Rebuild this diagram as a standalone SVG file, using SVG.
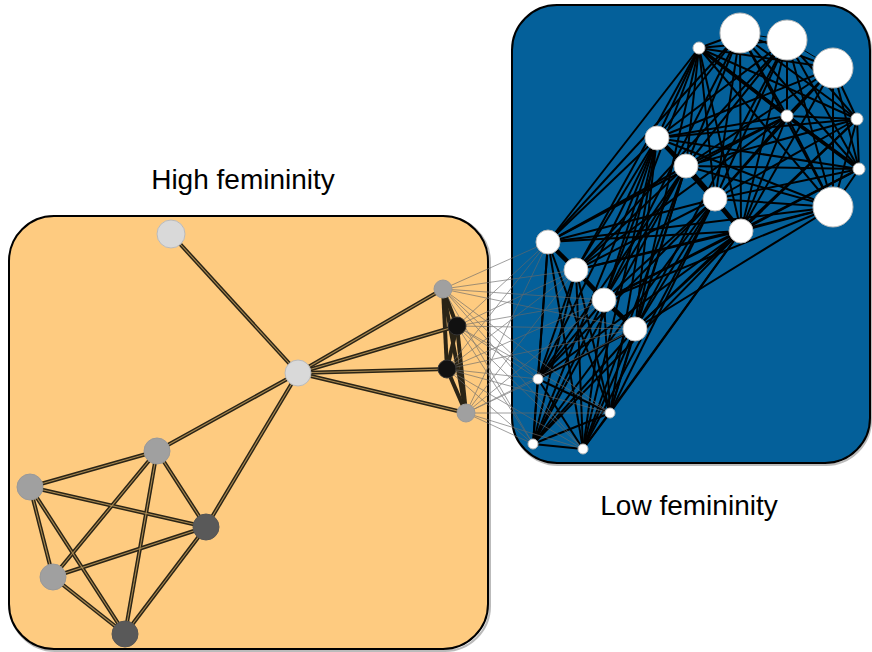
<svg xmlns="http://www.w3.org/2000/svg" width="872" height="652" viewBox="0 0 872 652">
<style>
.lbl{font-family:"Liberation Sans",Arial,sans-serif;font-size:28px;fill:#000}
.oe{stroke:#2a2416;stroke-width:4;fill:none}
.oi{stroke:#a88850;stroke-width:1.1;fill:none}
.be{stroke:#000;stroke-width:2;fill:none}
.bt{stroke:#000;stroke-width:4.5;fill:none}
.ce{stroke:#6a6a6a;stroke-width:0.8;fill:none;opacity:0.8}
.wn{fill:#fff;stroke:#bbb;stroke-width:1}
.box{stroke:#000;stroke-width:2}
.shadow{fill:none;stroke:#777;stroke-width:2;opacity:0.5}
</style>
<rect x="0" y="0" width="872" height="652" fill="#fff"/>
<rect class="shadow" x="10" y="217" width="480" height="434" rx="45"/>
<rect class="box" x="9" y="216" width="479" height="433" rx="45" fill="#fecb80"/>
<rect class="shadow" x="513" y="6" width="358" height="459" rx="45"/>
<rect class="box" x="512" y="5" width="358" height="458" rx="45" fill="#04609a"/>
<text class="lbl" x="243" y="189" text-anchor="middle">High femininity</text>
<text class="lbl" x="689" y="515" text-anchor="middle">Low femininity</text>
<g id="connectors">
<g id="orange-edges">
<g class="oe">
<line x1="171" y1="234" x2="298" y2="373"/><line x1="298" y1="373" x2="443" y2="289"/><line x1="298" y1="373" x2="457" y2="326"/><line x1="298" y1="373" x2="447" y2="369"/><line x1="298" y1="373" x2="466" y2="413"/><line x1="298" y1="373" x2="157" y2="451"/><line x1="298" y1="373" x2="206" y2="527"/>
<line x1="157" y1="451" x2="30" y2="487"/><line x1="157" y1="451" x2="206" y2="527"/><line x1="157" y1="451" x2="53" y2="577"/><line x1="157" y1="451" x2="125" y2="634"/><line x1="30" y1="487" x2="206" y2="527"/><line x1="30" y1="487" x2="53" y2="577"/><line x1="30" y1="487" x2="125" y2="634"/><line x1="53" y1="577" x2="206" y2="527"/><line x1="53" y1="577" x2="125" y2="634"/><line x1="206" y1="527" x2="125" y2="634"/>
<line x1="443" y1="289" x2="457" y2="326"/><line x1="443" y1="289" x2="447" y2="369"/><line x1="443" y1="289" x2="466" y2="413"/><line x1="457" y1="326" x2="447" y2="369"/><line x1="457" y1="326" x2="466" y2="413"/><line x1="447" y1="369" x2="466" y2="413"/>
</g>
<g class="oi">
<line x1="171" y1="234" x2="298" y2="373"/><line x1="298" y1="373" x2="443" y2="289"/><line x1="298" y1="373" x2="457" y2="326"/><line x1="298" y1="373" x2="447" y2="369"/><line x1="298" y1="373" x2="466" y2="413"/><line x1="298" y1="373" x2="157" y2="451"/><line x1="298" y1="373" x2="206" y2="527"/>
<line x1="157" y1="451" x2="30" y2="487"/><line x1="157" y1="451" x2="206" y2="527"/><line x1="157" y1="451" x2="53" y2="577"/><line x1="157" y1="451" x2="125" y2="634"/><line x1="30" y1="487" x2="206" y2="527"/><line x1="30" y1="487" x2="53" y2="577"/><line x1="30" y1="487" x2="125" y2="634"/><line x1="53" y1="577" x2="206" y2="527"/><line x1="53" y1="577" x2="125" y2="634"/><line x1="206" y1="527" x2="125" y2="634"/>
</g>
</g>
<g id="blue-edges" class="be">
<line x1="740" y1="33" x2="787" y2="40" stroke-width="1"/><line x1="787" y1="40" x2="833" y2="68" stroke-width="1"/><line x1="740" y1="33" x2="833" y2="68"/><line x1="740" y1="33" x2="833" y2="207"/><line x1="740" y1="33" x2="699" y2="48"/><line x1="740" y1="33" x2="787" y2="116"/><line x1="740" y1="33" x2="857" y2="119"/><line x1="740" y1="33" x2="859" y2="169"/><line x1="740" y1="33" x2="657" y2="138"/><line x1="740" y1="33" x2="686" y2="166"/><line x1="740" y1="33" x2="715" y2="199"/><line x1="740" y1="33" x2="741" y2="231"/>
<line x1="787" y1="40" x2="833" y2="207"/><line x1="787" y1="40" x2="699" y2="48"/><line x1="787" y1="40" x2="787" y2="116"/><line x1="787" y1="40" x2="857" y2="119"/><line x1="787" y1="40" x2="859" y2="169"/><line x1="787" y1="40" x2="657" y2="138"/><line x1="787" y1="40" x2="686" y2="166"/><line x1="787" y1="40" x2="715" y2="199"/><line x1="787" y1="40" x2="741" y2="231"/>
<line x1="833" y1="68" x2="833" y2="207"/><line x1="833" y1="68" x2="699" y2="48"/><line x1="833" y1="68" x2="787" y2="116"/><line x1="833" y1="68" x2="857" y2="119"/><line x1="833" y1="68" x2="859" y2="169"/><line x1="833" y1="68" x2="657" y2="138"/><line x1="833" y1="68" x2="686" y2="166"/><line x1="833" y1="68" x2="715" y2="199"/><line x1="833" y1="68" x2="741" y2="231"/>
<line x1="833" y1="207" x2="699" y2="48"/><line x1="833" y1="207" x2="787" y2="116"/><line x1="833" y1="207" x2="857" y2="119"/><line x1="833" y1="207" x2="859" y2="169"/><line x1="833" y1="207" x2="657" y2="138"/><line x1="833" y1="207" x2="686" y2="166"/><line x1="833" y1="207" x2="715" y2="199"/><line x1="833" y1="207" x2="741" y2="231"/>
<line x1="699" y1="48" x2="787" y2="116" stroke-width="3.5"/><line x1="699" y1="48" x2="857" y2="119"/><line x1="699" y1="48" x2="859" y2="169"/><line x1="699" y1="48" x2="657" y2="138"/><line x1="699" y1="48" x2="686" y2="166"/><line x1="699" y1="48" x2="715" y2="199"/><line x1="699" y1="48" x2="741" y2="231"/>
<line x1="787" y1="116" x2="857" y2="119"/><line x1="787" y1="116" x2="859" y2="169" stroke-width="3.5"/><line x1="787" y1="116" x2="657" y2="138"/><line x1="787" y1="116" x2="686" y2="166"/><line x1="787" y1="116" x2="715" y2="199"/><line x1="787" y1="116" x2="741" y2="231"/>
<line x1="857" y1="119" x2="859" y2="169"/><line x1="857" y1="119" x2="657" y2="138"/><line x1="857" y1="119" x2="686" y2="166"/><line x1="857" y1="119" x2="715" y2="199"/><line x1="857" y1="119" x2="741" y2="231"/>
<line x1="859" y1="169" x2="657" y2="138"/><line x1="859" y1="169" x2="686" y2="166"/><line x1="859" y1="169" x2="715" y2="199"/><line x1="859" y1="169" x2="741" y2="231"/>
<line x1="657" y1="138" x2="715" y2="199"/><line x1="657" y1="138" x2="741" y2="231"/><line x1="686" y1="166" x2="741" y2="231"/>
<line x1="548" y1="242" x2="604" y2="300"/><line x1="548" y1="242" x2="635" y2="329"/><line x1="576" y1="270" x2="635" y2="329"/>
<line x1="548" y1="242" x2="538" y2="379"/><line x1="548" y1="242" x2="610" y2="413"/><line x1="548" y1="242" x2="533" y2="444"/><line x1="548" y1="242" x2="583" y2="449"/>
<line x1="576" y1="270" x2="538" y2="379"/><line x1="576" y1="270" x2="610" y2="413"/><line x1="576" y1="270" x2="533" y2="444"/><line x1="576" y1="270" x2="583" y2="449"/>
<line x1="604" y1="300" x2="538" y2="379"/><line x1="604" y1="300" x2="610" y2="413"/><line x1="604" y1="300" x2="533" y2="444"/><line x1="604" y1="300" x2="583" y2="449"/>
<line x1="635" y1="329" x2="538" y2="379"/><line x1="635" y1="329" x2="610" y2="413"/><line x1="635" y1="329" x2="533" y2="444"/><line x1="635" y1="329" x2="583" y2="449"/>
<line x1="538" y1="379" x2="610" y2="413"/><line x1="538" y1="379" x2="533" y2="444"/><line x1="538" y1="379" x2="583" y2="449"/><line x1="610" y1="413" x2="533" y2="444"/><line x1="610" y1="413" x2="583" y2="449"/><line x1="533" y1="444" x2="583" y2="449"/>
<line x1="548" y1="242" x2="657" y2="138"/><line x1="548" y1="242" x2="686" y2="166"/><line x1="548" y1="242" x2="715" y2="199"/><line x1="548" y1="242" x2="741" y2="231"/><line x1="548" y1="242" x2="699" y2="48"/><line x1="548" y1="242" x2="833" y2="207"/><line x1="548" y1="242" x2="787" y2="116"/><line x1="548" y1="242" x2="740" y2="33"/>
<line x1="576" y1="270" x2="657" y2="138"/><line x1="576" y1="270" x2="686" y2="166"/><line x1="576" y1="270" x2="715" y2="199"/><line x1="576" y1="270" x2="741" y2="231"/><line x1="576" y1="270" x2="699" y2="48"/><line x1="576" y1="270" x2="833" y2="207"/><line x1="576" y1="270" x2="787" y2="116"/><line x1="576" y1="270" x2="787" y2="40"/>
<line x1="604" y1="300" x2="657" y2="138"/><line x1="604" y1="300" x2="686" y2="166"/><line x1="604" y1="300" x2="715" y2="199"/><line x1="604" y1="300" x2="741" y2="231"/><line x1="604" y1="300" x2="699" y2="48"/><line x1="604" y1="300" x2="833" y2="207"/><line x1="604" y1="300" x2="859" y2="169"/><line x1="604" y1="300" x2="740" y2="33"/>
<line x1="635" y1="329" x2="657" y2="138"/><line x1="635" y1="329" x2="686" y2="166"/><line x1="635" y1="329" x2="715" y2="199"/><line x1="635" y1="329" x2="741" y2="231"/><line x1="635" y1="329" x2="699" y2="48"/><line x1="635" y1="329" x2="833" y2="207"/><line x1="635" y1="329" x2="857" y2="119"/><line x1="635" y1="329" x2="787" y2="40"/>
<line x1="538" y1="379" x2="657" y2="138"/><line x1="538" y1="379" x2="686" y2="166"/><line x1="538" y1="379" x2="715" y2="199"/><line x1="538" y1="379" x2="741" y2="231"/>
<line x1="610" y1="413" x2="657" y2="138"/><line x1="610" y1="413" x2="686" y2="166"/><line x1="610" y1="413" x2="715" y2="199"/><line x1="610" y1="413" x2="741" y2="231"/>
<line x1="533" y1="444" x2="657" y2="138"/><line x1="533" y1="444" x2="686" y2="166"/><line x1="533" y1="444" x2="715" y2="199"/><line x1="533" y1="444" x2="741" y2="231"/>
<line x1="583" y1="449" x2="657" y2="138"/><line x1="583" y1="449" x2="686" y2="166"/><line x1="583" y1="449" x2="715" y2="199"/><line x1="583" y1="449" x2="741" y2="231"/>
</g>
<g id="thick-edges" class="bt">
<line x1="657" y1="138" x2="686" y2="166"/><line x1="686" y1="166" x2="715" y2="199"/><line x1="715" y1="199" x2="741" y2="231"/>
<line x1="548" y1="242" x2="576" y2="270"/><line x1="576" y1="270" x2="604" y2="300"/><line x1="604" y1="300" x2="635" y2="329"/>
</g>
<g id="cross-edges" class="ce">
<line x1="443" y1="289" x2="548" y2="242"/><line x1="443" y1="289" x2="576" y2="270"/><line x1="443" y1="289" x2="604" y2="300"/><line x1="443" y1="289" x2="635" y2="329"/><line x1="443" y1="289" x2="538" y2="379"/><line x1="443" y1="289" x2="610" y2="413"/><line x1="443" y1="289" x2="533" y2="444"/><line x1="443" y1="289" x2="583" y2="449"/>
<line x1="457" y1="326" x2="548" y2="242"/><line x1="457" y1="326" x2="576" y2="270"/><line x1="457" y1="326" x2="604" y2="300"/><line x1="457" y1="326" x2="635" y2="329"/><line x1="457" y1="326" x2="538" y2="379"/><line x1="457" y1="326" x2="610" y2="413"/><line x1="457" y1="326" x2="533" y2="444"/><line x1="457" y1="326" x2="583" y2="449"/>
<line x1="447" y1="369" x2="548" y2="242"/><line x1="447" y1="369" x2="576" y2="270"/><line x1="447" y1="369" x2="604" y2="300"/><line x1="447" y1="369" x2="635" y2="329"/><line x1="447" y1="369" x2="538" y2="379"/><line x1="447" y1="369" x2="610" y2="413"/><line x1="447" y1="369" x2="533" y2="444"/><line x1="447" y1="369" x2="583" y2="449"/>
<line x1="466" y1="413" x2="548" y2="242"/><line x1="466" y1="413" x2="576" y2="270"/><line x1="466" y1="413" x2="604" y2="300"/><line x1="466" y1="413" x2="635" y2="329"/><line x1="466" y1="413" x2="538" y2="379"/><line x1="466" y1="413" x2="610" y2="413"/><line x1="466" y1="413" x2="533" y2="444"/><line x1="466" y1="413" x2="583" y2="449"/>
</g>
</g>
<g id="nA"><circle cx="171" cy="234" r="14" fill="#d9d9d9" stroke="#bbb"/></g>
<g id="nB"><circle cx="298" cy="373" r="13" fill="#d9d9d9" stroke="#bbb"/></g>
<g id="nC"><circle cx="443" cy="289" r="9" fill="#a0a0a0" stroke="#999"/></g>
<g id="nD"><circle cx="457" cy="326" r="9" fill="#111" stroke="#333"/></g>
<g id="nE"><circle cx="447" cy="369" r="9" fill="#111" stroke="#333"/></g>
<g id="nF"><circle cx="466" cy="413" r="9" fill="#a0a0a0" stroke="#999"/></g>
<g id="nG"><circle cx="157" cy="451" r="13" fill="#a0a0a0" stroke="#999"/></g>
<g id="nH"><circle cx="30" cy="487" r="13" fill="#a0a0a0" stroke="#999"/></g>
<g id="nI"><circle cx="206" cy="527" r="13" fill="#595959" stroke="#555"/></g>
<g id="nJ"><circle cx="53" cy="577" r="13" fill="#a0a0a0" stroke="#999"/></g>
<g id="nK"><circle cx="125" cy="634" r="13" fill="#595959" stroke="#555"/></g>
<g id="L1"><circle class="wn" cx="740" cy="33" r="20"/></g>
<g id="L2"><circle class="wn" cx="787" cy="40" r="20"/></g>
<g id="L3"><circle class="wn" cx="833" cy="68" r="20"/></g>
<g id="L4"><circle class="wn" cx="833" cy="207" r="20"/></g>
<g id="s1"><circle class="wn" cx="699" cy="48" r="6"/></g>
<g id="s2"><circle class="wn" cx="787" cy="116" r="6"/></g>
<g id="s3"><circle class="wn" cx="857" cy="119" r="6"/></g>
<g id="s4"><circle class="wn" cx="859" cy="169" r="6"/></g>
<g id="u1"><circle class="wn" cx="657" cy="138" r="12"/></g>
<g id="u2"><circle class="wn" cx="686" cy="166" r="12"/></g>
<g id="u3"><circle class="wn" cx="715" cy="199" r="12"/></g>
<g id="u4"><circle class="wn" cx="741" cy="231" r="12"/></g>
<g id="m1"><circle class="wn" cx="548" cy="242" r="12"/></g>
<g id="m2"><circle class="wn" cx="576" cy="270" r="12"/></g>
<g id="m3"><circle class="wn" cx="604" cy="300" r="12"/></g>
<g id="m4"><circle class="wn" cx="635" cy="329" r="12"/></g>
<g id="t1"><circle class="wn" cx="538" cy="379" r="5"/></g>
<g id="t2"><circle class="wn" cx="610" cy="413" r="5"/></g>
<g id="t3"><circle class="wn" cx="533" cy="444" r="5"/></g>
<g id="t4"><circle class="wn" cx="583" cy="449" r="5"/></g>
</svg>
